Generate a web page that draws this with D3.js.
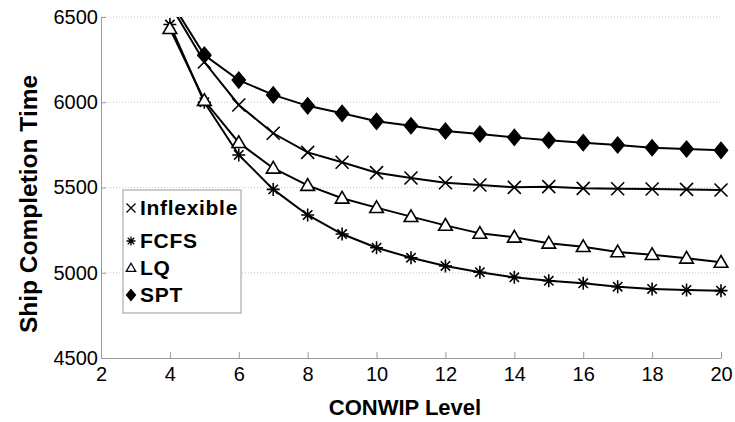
<!DOCTYPE html>
<html>
<head>
<meta charset="utf-8">
<script src="https://cdn.jsdelivr.net/npm/d3@7"></script>
<style>
  body { margin: 0; background: #fff; }
  text { font-family: "Liberation Sans", Arial, sans-serif; }
</style>
</head>
<body>
<span></span>
<script>
let width = 735;
let height = 422;

// data
let levels = [4, 5, 6, 7, 8, 9, 10, 11, 12, 13, 14, 15, 16, 17, 18, 19, 20];
let inflexible = [6575, 6236, 5984, 5818, 5706, 5648, 5587, 5556, 5528, 5515, 5501, 5505, 5495, 5493, 5491, 5489, 5485];
let fcfs = [6456, 6000, 5691, 5489, 5339, 5227, 5147, 5088, 5040, 5003, 4973, 4953, 4938, 4918, 4905, 4899, 4895];
let lq = [6432, 6010, 5763, 5613, 5512, 5437, 5382, 5329, 5278, 5231, 5208, 5173, 5153, 5122, 5106, 5085, 5061];
let spt = [6600, 6277, 6130, 6043, 5979, 5935, 5888, 5862, 5831, 5814, 5794, 5777, 5763, 5749, 5733, 5726, 5718];
let seriesNames = ["Inflexible", "FCFS", "LQ", "SPT"];
let seriesMarkers = ["times", "star", "triangle", "diamond"];
let xTicks = [2, 4, 6, 8, 10, 12, 14, 16, 18, 20];
let yTicks = [4500, 5000, 5500, 6000, 6500];

let series = [inflexible, fcfs, lq, spt].map(function (vals, i) {
    return { name: seriesNames[i], marker: seriesMarkers[i], values: vals.map((v, j) => ({ x: levels[j], y: v })) };
});

let plotLeft = 101, plotRight = 721, plotTop = 17, plotBottom = 358;
let x = d3.scaleLinear().domain([2, 20]).range([plotLeft, plotRight]);
let y = d3.scaleLinear().domain([4500, 6500]).range([plotBottom, plotTop]);
let fontName = "'Liberation Sans', Arial, sans-serif";

let svg = d3.select("span")
    .append("svg")
    .attr("width", width)
    .attr("height", height)
    .style("display", "block");

svg.append("rect").attr("width", width).attr("height", height).attr("fill", "#fff");

svg.append("clipPath").attr("id", "plotclip")
    .append("rect")
    .attr("x", plotLeft - 10).attr("y", plotTop)
    .attr("width", plotRight - plotLeft + 20).attr("height", plotBottom - plotTop);

// marker shapes
function markerPath(type, s) {
    if (type === "times") return `M${-s},${-s}L${s},${s}M${-s},${s}L${s},${-s}`;
    if (type === "star") {
        let d = s * 0.72;
        return `M0,${-s}L0,${s}M${-s},0L${s},0M${-d},${-d}L${d},${d}M${-d},${d}L${d},${-d}`;
    }
    if (type === "triangle") return `M0,${-s * 1.05}L${s * 1.05},${s * 0.75}L${-s * 1.05},${s * 0.75}Z`;
    return `M0,${-s * 1.2}L${s},0L0,${s * 1.2}L${-s},0Z`;
}
function markerFill(type) {
    if (type === "diamond") return "#000";
    if (type === "triangle") return "#fff";
    return "none";
}

// dotted grid
svg.append("g")
    .selectAll("line")
    .data(yTicks.filter(t => t > 4500))
    .join("line")
    .attr("x1", plotLeft).attr("x2", plotRight)
    .attr("y1", d => y(d)).attr("y2", d => y(d))
    .attr("stroke", "#c8c8c8")
    .attr("stroke-dasharray", "1,2");

// axes
let xAxis = svg.append("g")
    .attr("transform", `translate(0,${plotBottom})`)
    .call(d3.axisBottom(x).tickValues(xTicks).tickSize(-6).tickSizeOuter(0).tickPadding(9));
let yAxis = svg.append("g")
    .attr("transform", `translate(${plotLeft},0)`)
    .call(d3.axisLeft(y).tickValues(yTicks).tickFormat(d3.format("d")).tickSize(-5).tickSizeOuter(0).tickPadding(3));
[xAxis, yAxis].forEach(function (g) {
    g.selectAll("path, line").attr("stroke", "#999");
    g.selectAll("text").attr("fill", "#000")
        .attr("font-size", 20)
        .attr("font-family", fontName);
});
yAxis.selectAll(".tick").filter(d => d === 4500).select("line").remove();
xAxis.selectAll(".tick").filter(d => d === 2).select("line").remove();

// lines + markers
let line = d3.line().x(d => x(d.x)).y(d => y(d.y));
let plot = svg.append("g").attr("clip-path", "url(#plotclip)");
series.forEach(function (s) {
    plot.append("path")
        .attr("d", line(s.values))
        .attr("fill", "none")
        .attr("stroke", "#000")
        .attr("stroke-width", 2);
});
series.forEach(function (s) {
    plot.selectAll(null)
        .data(s.values.filter(d => d.y <= 6520))
        .join("path")
        .attr("transform", d => `translate(${x(d.x)},${y(d.y)})`)
        .attr("d", markerPath(s.marker, 6.5))
        .attr("fill", markerFill(s.marker))
        .attr("stroke", "#000")
        .attr("stroke-width", 1.6);
});

// legend
let legend = svg.append("g");
legend.append("rect")
    .attr("x", 123).attr("y", 190)
    .attr("width", 118).attr("height", 123)
    .attr("fill", "#fff")
    .attr("stroke", "#999");
let legendBase = [215, 248, 275, 302];
series.forEach(function (s, i) {
    legend.append("path")
        .attr("transform", `translate(131,${legendBase[i] - 7})`)
        .attr("d", markerPath(s.marker, 4.5))
        .attr("fill", markerFill(s.marker))
        .attr("stroke", "#000")
        .attr("stroke-width", 1.3);
    legend.append("text")
        .attr("x", 140).attr("y", legendBase[i])
        .attr("font-family", fontName)
        .attr("font-size", 21)
        .attr("letter-spacing", 0.7)
        .attr("font-weight", "bold")
        .text(s.name);
});

// axis titles
svg.append("text")
    .attr("x", 405).attr("y", 415)
    .attr("text-anchor", "middle")
    .attr("font-family", fontName)
    .attr("font-size", 22)
    .attr("font-weight", "bold")
    .text("CONWIP Level");
svg.append("text")
    .attr("transform", "translate(37,204) rotate(-90)")
    .attr("text-anchor", "middle")
    .attr("font-family", fontName)
    .attr("font-size", 24.5)
    .attr("font-weight", "bold")
    .text("Ship Completion Time");
</script>
</body>
</html>
